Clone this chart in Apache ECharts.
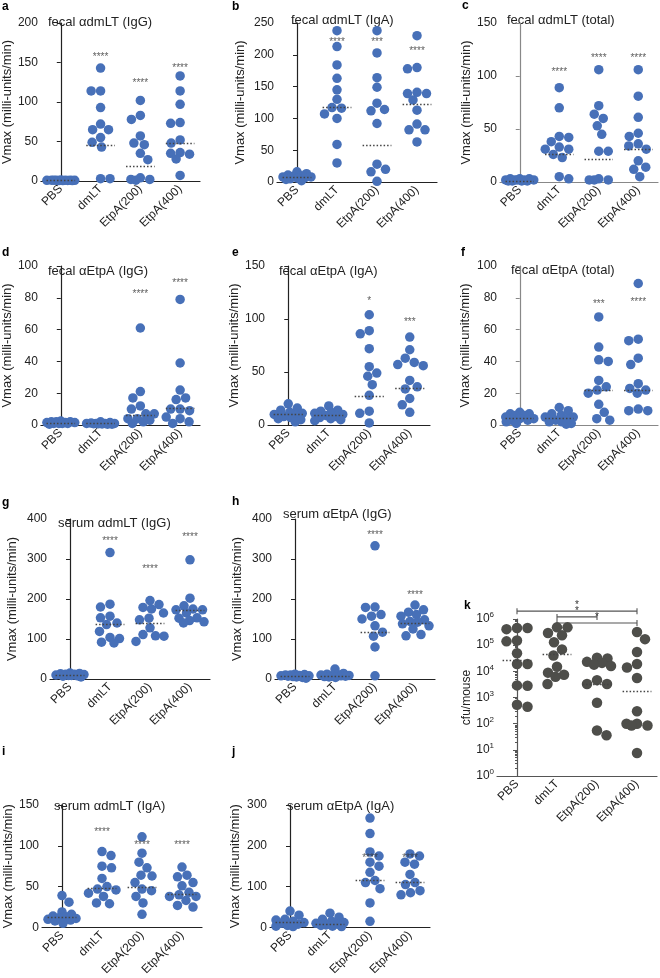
<!DOCTYPE html>
<html><head><meta charset="utf-8">
<script src="https://cdn.jsdelivr.net/npm/echarts@6/dist/echarts.min.js"></script>
<style>html,body{margin:0;padding:0;background:#fff}#c{width:660px;height:978px}</style>
</head><body><div id="c"></div>
<script>
const categories = ['PBS', 'dmLT', 'EtpA(200)', 'EtpA(400)'];

// a: fecal αdmLT (IgG)
const aValues = [
  [1.2, 1, 0.8, 0.5, 1, 0.7, 0.9, 0.6, 1.1, 0.8, 0.5, 1],
  [143, 114, 114, 93, 72, 65, 65, 55, 49, 43, 3, 3],
  [102, 83, 78, 57, 48, 46, 35, 27, 4, 2, 2, 1],
  [133, 114, 97, 74, 73, 52, 48, 36, 35, 34, 28, 7]
];
const aMedians = [0.4, 45, 18.5, 48];
const aStars = ['', '****', '****', '****'];
const aStarY = [null, 160, 128, 147];

// b: fecal αdmLT (IgA)
const bValues = [
  [16, 13, 11, 10, 9, 8, 8, 7, 6, 5, 4, 2],
  [238, 213, 184, 163, 145, 130, 117, 116, 107, 100, 59, 30],
  [238, 203, 164, 149, 124, 114, 112, 92, 28, 20, 16, 1],
  [230, 180, 178, 141, 139, 139, 129, 113, 91, 82, 82, 63]
];
const bMedians = [7, 118, 58, 122];
const bStars = ['', '****', '***', '****'];
const bStarY = [null, 225, 225, 210];

// c: fecal αdmLT (total)
const cValues = [
  [3, 3, 3, 2, 2, 2, 2, 2, 1, 1, 1, 1],
  [89, 70, 43, 42, 38, 33, 31, 31, 26, 23, 5, 3],
  [106, 72, 64, 60, 53, 45, 29, 29, 3, 2, 2, 2],
  [106, 81, 61, 46, 43, 36, 34, 31, 20, 14, 12, 5]
];
const cMedians = [1, 26, 21.5, 31];
const cStars = ['', '****', '****', '****'];
const cStarY = [null, 106, 120, 120];

// d: fecal αEtpA (IgG)
const dValues = [
  [2.5, 2, 2, 1.5, 1.5, 1.5, 1, 1, 1, 1, 0.5, 2],
  [2, 1.5, 1.2, 1, 1, 1, 1, 0.8, 0.8, 0.7, 0.5, 0.5],
  [61, 21, 17, 12, 10, 7, 7, 4, 4, 3, 2, 1],
  [79, 39, 22, 17, 16, 10, 10, 9, 5, 4, 2, 1]
];
const dMedians = [1, 1, 6.3, 10.5];
const dStars = ['', '', '****', '****'];
const dStarY = [null, null, 84, 91];

// e: fecal αEtpA (IgA)
const eValues = [
  [20, 16, 14, 12, 11, 10, 9, 8, 7, 6, 5, 3],
  [18, 14, 13, 12, 11, 10, 9, 8, 7, 6, 5, 4],
  [104, 89, 86, 72, 55, 49, 46, 38, 28, 13, 11, 2],
  [83, 71, 63, 59, 57, 56, 42, 36, 34, 25, 19, 12]
];
const eMedians = [10, 9, 27, 35];
const eStars = ['', '', '*', '***'];
const eStarY = [null, null, 120, 100];

// f: fecal αEtpA (total)
const fValues = [
  [8, 7, 7, 6, 6, 5, 4, 4, 3, 3, 2, 1],
  [11, 9, 7, 6, 5, 5, 4, 3, 2, 2, 1, 0.5],
  [68, 49, 41, 40, 28, 24, 22, 20, 13, 8, 4, 3],
  [89, 54, 53, 42, 38, 26, 23, 22, 20, 10, 9, 9]
];
const fMedians = [4, 4, 22, 22];
const fStars = ['', '', '***', '****'];
const fStarY = [null, null, 78, 79];

// g: serum αdmLT (IgG)
const gValues = [
  [15, 14, 13, 12, 12, 11, 10, 9, 9, 8, 7, 5],
  [316, 187, 180, 157, 153, 140, 136, 119, 104, 101, 92, 90],
  [196, 186, 179, 175, 165, 152, 148, 128, 111, 108, 107, 94],
  [298, 202, 183, 175, 173, 173, 165, 153, 152, 146, 143, 140]
];
const gMedians = [10, 138, 140, 172];
const gStars = ['', '****', '****', '****'];
const gStarY = [null, 352, 281, 362];

// h: serum αEtpA (IgG)
const hValues = [
  [12, 11, 10, 10, 9, 8, 8, 7, 6, 5, 4, 2],
  [25, 14, 12, 11, 10, 9, 8, 8, 7, 6, 5, 4],
  [333, 180, 179, 161, 157, 150, 133, 117, 107, 80, 8],
  [185, 173, 167, 161, 157, 148, 144, 142, 138, 133, 125, 111, 108]
];
const hMedians = [8, 8, 117, 140];
const hStars = ['', '', '****', '****'];
const hStarY = [null, null, 368, 217];

// i: serum αdmLT (IgA)
const iValues = [
  [39, 31, 19, 16, 14, 13, 12, 11, 10, 9, 8, 5],
  [93, 88, 75, 73, 60, 50, 47, 46, 42, 38, 30, 29],
  [111, 91, 80, 73, 64, 63, 55, 47, 45, 38, 30, 16],
  [74, 64, 62, 55, 51, 43, 40, 38, 38, 33, 27, 25]
];
const iMedians = [12, 48, 49, 41];
const iStars = ['', '****', '****', '****'];
const iStarY = [null, 120, 104, 104];

// j: serum αEtpA (IgA)
const jValues = [
  [40, 30, 20, 18, 15, 12, 10, 8, 5, 3, 2],
  [35, 25, 20, 15, 12, 10, 8, 6, 5, 3, 2],
  [268, 230, 185, 175, 160, 150, 135, 115, 110, 95, 60, 15],
  [180, 175, 160, 155, 130, 110, 105, 90, 85, 80]
];
const jMedians = [13, 8, 115, 110];
const jStars = ['', '', '****', '****'];
const jStarY = [null, null, 178, 178];

// k: cfu/mouse (log)
const kValues = [
  [4.5e5, 4.1e5, 4.5e5, 1.4e5, 1.5e5, 4.9e4, 1.9e4, 1.9e4, 2.9e3, 2.8e3, 4.4e2, 5.3e2],
  [4.8e5, 4.8e5, 2.9e5, 2.4e5, 1.3e5, 6.9e4, 4e4, 1.5e4, 8.9e3, 7.4e3, 6.2e3, 3.3e3],
  [3.3e4, 3.1e4, 2.3e4, 2.1e4, 1.8e4, 1.6e4, 4.6e3, 3.3e3, 3.3e3, 6.3e2, 5.5e1, 3.6e1],
  [3.2e5, 1.7e5, 5.5e4, 1.9e4, 1.4e4, 5.6e3, 3.0e2, 1.0e2, 1.0e2, 8.5e1, 8.5e1, 7.6]
];
const kMedians = [2.6e4, 4.6e4, 3.3e3, 1.7e3];
const kSigPairs = [[0, 3], [1, 2], [1, 3]];
const kSigText = ['*', '*', '*'];
const kSigY = [Math.pow(10, 6.3), Math.pow(10, 6.08), Math.pow(10, 5.85)];

const FONT = '"Liberation Sans", Arial, Helvetica, sans-serif';
const BLUE = '#4770b8';
const GREY = '#4e4e4a';
const VMAX = 'Vmax (milli-units/min)';

const panels = [
  {letter:'a', title:'fecal αdmLT (IgG)', vals:aValues, med:aMedians, stars:aStars, starY:aStarY, max:200, step:50, box:[40,23,160,158], ax:'#222', name:VMAX, gap:23, lp:[2,1], tp:[48,24]},
  {letter:'b', title:'fecal αdmLT (IgA)', vals:bValues, med:bMedians, stars:bStars, starY:bStarY, max:250, step:50, box:[277,23,160,159], ax:'#222', name:VMAX, gap:30, lp:[232,1], tp:[291,22]},
  {letter:'c', title:'fecal αdmLT (total)', vals:cValues, med:cMedians, stars:cStars, starY:cStarY, max:150, step:50, box:[500,23,158,159], ax:'#888', name:VMAX, gap:26, lp:[462,0], tp:[507,22]},
  {letter:'d', title:'fecal αEtpA (IgG)', vals:dValues, med:dMedians, stars:dStars, starY:dStarY, max:100, step:20, box:[40,266,160,159], ax:'#222', name:VMAX, gap:23, lp:[2,247], tp:[48,273]},
  {letter:'e', title:'fecal αEtpA (IgA)', vals:eValues, med:eMedians, stars:eStars, starY:eStarY, max:150, step:50, box:[268,266,162,159], ax:'#222', name:VMAX, gap:24, lp:[232,247], tp:[279,273]},
  {letter:'f', title:'fecal αEtpA (total)', vals:fValues, med:fMedians, stars:fStars, starY:fStarY, max:100, step:20, box:[500,266,158,159], ax:'#888', name:VMAX, gap:28, lp:[461,247], tp:[511,272]},
  {letter:'g', title:'serum αdmLT (IgG)', vals:gValues, med:gMedians, stars:gStars, starY:gStarY, max:400, step:100, box:[50,519,160,160], ax:'#222', name:VMAX, gap:31, lp:[2,497], tp:[58,525]},
  {letter:'h', title:'serum αEtpA (IgG)', vals:hValues, med:hMedians, stars:hStars, starY:hStarY, max:400, step:100, box:[275,519,160,160], ax:'#222', name:VMAX, gap:31, lp:[232,496], tp:[283,516]},
  {letter:'i', title:'serum αdmLT (IgA)', vals:iValues, med:iMedians, stars:iStars, starY:iStarY, max:150, step:50, box:[42,805,160,123], ax:'#222', name:VMAX, gap:27, lp:[2,746], tp:[54,808]},
  {letter:'j', title:'serum αEtpA (IgA)', vals:jValues, med:jMedians, stars:jStars, starY:jStarY, max:300, step:100, box:[270,805,160,123], ax:'#222', name:VMAX, gap:28, lp:[232,746], tp:[287,808]},
  {letter:'k', title:'', vals:kValues, med:kMedians, stars:null, starY:null, log:true, box:[497,619,160,157], ax:'#555', name:'cfu/mouse', gap:24, lp:[464,600], tp:null}
];

function swarm(vals, toPx, groupPx, d, W) {
  const idx = vals.map((v, i) => i).sort((p, q) => vals[q] - vals[p]);
  const placed = [];
  const off = new Array(vals.length);
  idx.forEach((i, n) => {
    const y = toPx(vals[i]);
    let best = 0, bestScore = -1, free = null;
    for (let o = -W; o <= W + 1e-9; o += 0.5) {
      let md = Infinity;
      for (const p of placed) { const dd = Math.hypot(p.x - o, p.y - y); if (dd < md) md = dd; }
      if (md >= d) {
        if (free === null || Math.abs(o) < Math.abs(free) - 1e-9 ||
            (Math.abs(Math.abs(o) - Math.abs(free)) < 1e-9 && (n % 2 ? o > 0 : o < 0))) free = o;
      }
      if (md > bestScore + 1e-9) { bestScore = md; best = o; }
    }
    const o = free !== null ? free : best;
    placed.push({ x: o, y: y });
    off[i] = o / groupPx;
  });
  return off;
}

const grids = [], xAxes = [], yAxes = [], series = [];
panels.forEach((p, g) => {
  const [L, T, W, H] = p.box;
  grids.push({ left: L, top: T, width: W, height: H, containLabel: false });
  const lineC = p.ax;
  xAxes.push({
    type: 'category', gridIndex: g, data: categories,
    axisLine: { lineStyle: { color: lineC, width: 1.2 } },
    axisTick: { alignWithLabel: true, length: 4, lineStyle: { color: lineC } },
    axisLabel: { rotate: 45, fontSize: 12, color: '#222', margin: 6, interval: 0, fontFamily: FONT }
  });
  xAxes.push({ type: 'value', gridIndex: g, min: -0.5, max: 3.5, show: false });
  const y = {
    gridIndex: g, name: p.name, nameLocation: 'middle', nameGap: p.gap,
    nameTextStyle: { fontSize: p.log ? 12 : 13, color: '#222', fontFamily: FONT },
    axisLine: { show: true, lineStyle: { color: lineC, width: 1.2 } },
    axisTick: { show: true, length: 4, lineStyle: { color: lineC } },
    splitLine: { show: false },
    axisLabel: { fontSize: 12, color: '#222', margin: 3, fontFamily: FONT }
  };
  if (p.log) {
    Object.assign(y, { type: 'log', logBase: 10, min: 1, max: 1e6, splitNumber: 6,
      minorTick: { show: true, splitNumber: 9, length: 2, lineStyle: { color: lineC } } });
    y.axisLabel.formatter = v => '{b|10}{s|' + Math.round(Math.log10(v)) + '}';
    y.axisLabel.rich = { b: { fontSize: 12, color: '#222', fontFamily: FONT }, s: { fontSize: 8, color: '#222', padding: [0, 0, 8, 0], fontFamily: FONT } };
  } else {
    Object.assign(y, { type: 'value', min: 0, max: p.max, interval: p.step });
  }
  yAxes.push(y);

  const toPx = p.log ? (v => Math.log10(v) / 6 * H) : (v => v / p.max * H);
  const groupPx = W / 4;
  const d = p.log ? 10.5 : 9.5;
  const pts = [];
  p.vals.forEach((arr, ci) => {
    const off = swarm(arr, toPx, groupPx, d, 14);
    arr.forEach((v, k) => pts.push([ci + off[k], v]));
  });
  series.push({
    type: 'scatter', xAxisIndex: 2 * g + 1, yAxisIndex: g, data: pts,
    symbolSize: d, clip: false, silent: true,
    itemStyle: { color: p.log ? GREY : BLUE, opacity: 1 },
    markLine: {
      silent: true, symbol: ['none', 'none'], label: { show: false },
      lineStyle: { type: [1.5, 2], color: '#444', width: 1.3 },
      data: p.med.map((m, ci) => [{ coord: [ci - 0.36, m] }, { coord: [ci + 0.36, m] }])
    },
    z: 3
  });
  if (p.stars) {
    const sd = [];
    p.stars.forEach((s, ci) => { if (s) sd.push([ci, p.starY[ci], s]); });
    series.push({
      type: 'scatter', xAxisIndex: 2 * g + 1, yAxisIndex: g, data: sd,
      symbolSize: 0.1, clip: false, silent: true, itemStyle: { color: 'transparent' },
      label: { show: true, position: 'inside', formatter: q => q.value[2], fontSize: 10, color: '#333', offset: [0, 3], fontFamily: FONT },
      z: 4
    });
  }
});

const chart = echarts.init(document.getElementById('c'), null, { renderer: 'canvas' });
chart.setOption({
  animation: false, backgroundColor: '#fff',
  textStyle: { fontFamily: FONT },
  grid: grids, xAxis: xAxes, yAxis: yAxes, series: series
});

const graphic = [];
panels.forEach(p => {
  graphic.push({ type: 'text', left: p.lp[0], top: p.lp[1], style: { text: p.letter, font: 'bold 12px ' + FONT, fill: '#000' } });
  if (p.tp) graphic.push({ type: 'text', left: p.tp[0], top: p.tp[1] - 8, style: { text: p.title, font: '13px ' + FONT, fill: '#222' } });
});
const kg = panels.length - 1;
kSigPairs.forEach((pair, n) => {
  const a = chart.convertToPixel({ xAxisIndex: 2 * kg + 1, yAxisIndex: kg }, [pair[0], kSigY[n]]);
  const b = chart.convertToPixel({ xAxisIndex: 2 * kg + 1, yAxisIndex: kg }, [pair[1], kSigY[n]]);
  const st = { stroke: '#555', lineWidth: 1.1 };
  graphic.push({ type: 'line', shape: { x1: a[0], y1: a[1], x2: b[0], y2: b[1] }, style: st });
  graphic.push({ type: 'line', shape: { x1: a[0], y1: a[1] - 3, x2: a[0], y2: a[1] + 3 }, style: st });
  graphic.push({ type: 'line', shape: { x1: b[0], y1: b[1] - 3, x2: b[0], y2: b[1] + 3 }, style: st });
  graphic.push({ type: 'text', x: (a[0] + b[0]) / 2, y: a[1] - 1, style: { text: kSigText[n], font: '10px ' + FONT, fill: '#333', textAlign: 'center', textVerticalAlign: 'bottom' } });
});
chart.setOption({ graphic: graphic });
</script>
</body></html>
